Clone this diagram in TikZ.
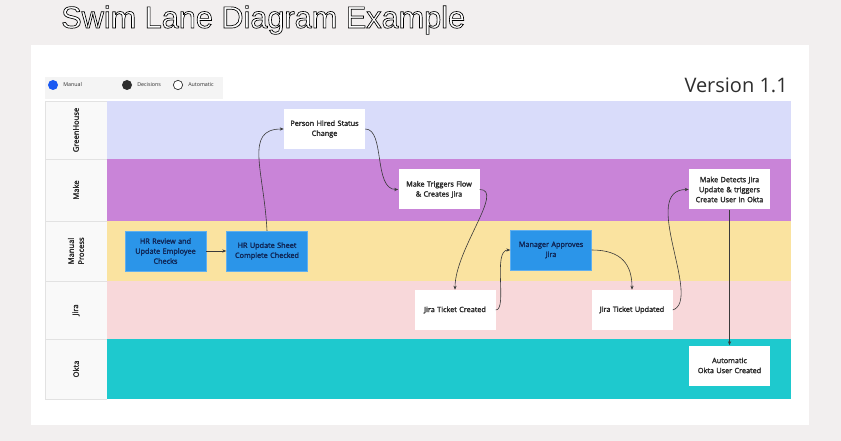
\documentclass[tikz,border=0pt]{standalone}
\usepackage{fontspec}
\setmainfont{Open Sans}[AutoFakeBold=2.5]
\newfontfamily\titlefont{Liberation Sans}
\usetikzlibrary{arrows.meta}

\definecolor{pagegray}{HTML}{F2EFEF}
\definecolor{legendgray}{HTML}{F4F4F4}
\definecolor{bordergray}{HTML}{E2E2E2}
\definecolor{greenlane}{HTML}{D9DCFA}
\definecolor{makelane}{HTML}{C984D8}
\definecolor{manuallane}{HTML}{FAE3A0}
\definecolor{jiralane}{HTML}{F8D8DA}
\definecolor{oktalane}{HTML}{1EC9CE}
\definecolor{manualblue}{HTML}{2B95E9}
\definecolor{navytext}{HTML}{10295A}
\definecolor{textgray}{HTML}{2E2E2E}
\definecolor{linegray}{HTML}{3A3A3A}

\newcommand{\boxfont}{\fontsize{5.45}{7.5}\selectfont\bfseries\hyphenpenalty=10000}
\newcommand{\lanefont}{\fontsize{5.7}{7.5}\selectfont\bfseries}
\newcommand{\legendfont}{\fontsize{4}{5}\selectfont}

\begin{document}
\begin{tikzpicture}[x=0.75pt,y=-0.75pt,
    whitebox/.style={fill=white, text=textgray, font=\boxfont, align=center,
      text width=58pt, minimum width=60.75pt, minimum height=30pt, inner sep=0pt},
    bluebox/.style={whitebox, fill=manualblue, text=navytext,
      draw=manualblue!75!white, line width=0.3pt},
    lanelabel/.style={rotate=90, font=\lanefont, text=textgray, align=center},
    legendtext/.style={anchor=west, font=\legendfont, text=textgray, inner sep=0pt},
    flow/.style={draw=linegray, line width=0.45pt, -{Stealth[length=3pt,width=2.4pt]}}]
    % Tlo
    \fill[pagegray] (0,0) rectangle (841,441);
    \fill[white] (31,45) rectangle (809,425);
    \useasboundingbox (0,0) rectangle (841,441);

    % Tytul
    \node[anchor=base west, inner sep=0pt, text=white, font=\titlefont\fontsize{23}{27}\selectfont] (title) at (61,28)
        {\special{pdf:literal direct 2 Tr 0.5 w 0 G}Swim Lane Diagram Example\special{pdf:literal direct 0 Tr}};
    \node[anchor=base east, inner sep=0pt, text=textgray, font=\fontsize{15}{18}\selectfont] (version) at (788,93) {Version 1.1};

    % Legenda
    \fill[legendgray] (45,77) rectangle (223,99);
    \node[circle, fill=manualblue!60!blue, minimum size=7.5pt, inner sep=0pt] (legManual) at (53,85) {};
    \node[legendtext] (txtManual) at (63,85) {Manual};
    \node[circle, fill=textgray, minimum size=7.5pt, inner sep=0pt] (legDecision) at (127,85) {};
    \node[legendtext] (txtDecision) at (137,85) {Decisions};
    \node[circle, draw=textgray, line width=0.5pt, fill=white, minimum size=7pt, inner sep=0pt] (legAuto) at (178,85) {};
    \node[legendtext] (txtAuto) at (188,85) {Automatic};

    % Tory
    \fill[greenlane] (107,101) rectangle (791,159);
    \fill[makelane] (107,159) rectangle (791,221);
    \fill[manuallane] (107,221) rectangle (791,281);
    \fill[jiralane] (107,281) rectangle (791,339);
    \fill[oktalane] (107,339) rectangle (791,399);

    % Kolumna nazw
    \fill[legendgray!50!white] (45,101) rectangle (107,399);
    \draw[bordergray, line width=0.4pt] (45,101) -- (45,399) -- (107,399);
    \foreach \y in {101,159,221,281,339}
        \draw[bordergray, line width=0.4pt] (45,\y) -- (107,\y);
    \node[lanelabel] (lblGreen) at (76,130) {GreenHouse};
    \node[lanelabel] (lblMake) at (76,190) {Make};
    \node[lanelabel] (lblManual) at (76,251) {Manual\\Process};
    \node[lanelabel] (lblJira) at (76,310) {Jira};
    \node[lanelabel] (lblOkta) at (76,369) {Okta};

    % Kroki
    \node[bluebox] (hrReview) at (165.5,251) {HR Review and\\Update Employee\\Checks};
    \node[bluebox] (hrUpdate) at (267,251) {HR Update Sheet\\Complete Checked};
    \node[whitebox] (hired) at (324.5,129) {Person Hired Status\\Change};
    \node[whitebox] (makeFlow) at (439,189.5) {Make Triggers Flow\\\& Creates Jira};
    \node[whitebox] (jiraCreated) at (455,310) {Jira Ticket Created};
    \node[bluebox] (mgrApprove) at (551,250) {Manager Approves\\Jira};
    \node[whitebox] (jiraUpdated) at (632,310) {Jira Ticket Updated};
    \node[whitebox] (makeDetects) at (729.5,189.5) {Make Detects Jira\\Update \& triggers\\Create User in Okta};
    \node[whitebox] (oktaUser) at (729.5,365.5) {Automatic\\Okta User Created};

    % Przeplyw
    \draw[flow] (hrReview.east) -- (hrUpdate.west);
    \draw[flow] (hrUpdate.north) .. controls +(-3,-60) and +(-40,0) .. (hired.west);
    \draw[flow] (hired.east) .. controls +(20,0) and +(-25,0) .. (makeFlow.west);
    \draw[flow] (makeFlow.east) .. controls +(25,0) and +(0,-40) .. (jiraCreated.north);
    \draw[flow] (jiraCreated.east) .. controls +(12,0) and +(-18,0) .. (mgrApprove.west);
    \draw[flow] (mgrApprove.east) .. controls +(30,0) and +(0,-25) .. (jiraUpdated.north);
    \draw[flow] (jiraUpdated.east) .. controls +(30,-10) and +(-50,0) .. (makeDetects.west);
    \draw[flow] (makeDetects.south) -- (oktaUser.north);
\end{tikzpicture}
\end{document}
